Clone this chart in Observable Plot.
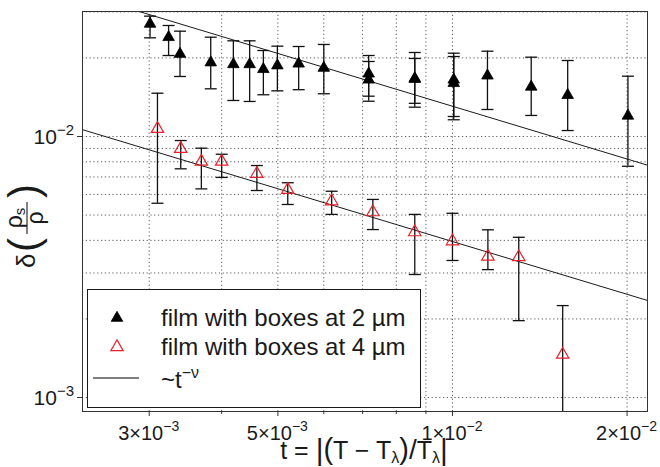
<!DOCTYPE html>
<html>
<head>
<meta charset="utf-8">
<script src="https://cdn.jsdelivr.net/npm/d3@7"></script>
<script src="https://cdn.jsdelivr.net/npm/@observablehq/plot@0.6"></script>
<style>
  body { margin: 0; background: #fff; }
  #chart { width: 660px; height: 467px; }
  svg text { font-family: "Liberation Sans", Arial, Helvetica, sans-serif; }
</style>
</head>
<body>
<div id="chart"></div>
<script>
// Superfluid fraction jump δ(ρs/ρ) versus reduced temperature t.

// film with boxes at 2 µm (repeated t = two runs at the same temperature)
const t2     = [0.00301, 0.00324, 0.00339, 0.00383, 0.00419, 0.00447, 0.00472, 0.00499, 0.00543, 0.00600,
                0.00717, 0.00717, 0.00861, 0.00861, 0.01005, 0.01005, 0.01149, 0.01367, 0.01580, 0.02007];
const rho2   = [0.0270, 0.0240, 0.0207, 0.0192, 0.0189, 0.0189, 0.0181, 0.0187, 0.0190, 0.0183,
                0.0174, 0.0165, 0.0167, 0.0166, 0.0165, 0.0160, 0.0171, 0.0155, 0.0144, 0.0120];
const rho2Lo = [0.02388, 0.02043, 0.01698, 0.01523, 0.01374, 0.01362, 0.01445, 0.01496, 0.01511, 0.01458,
                0.01427, 0.01365, 0.01295, 0.01340, 0.01193, 0.01159, 0.01269, 0.01204, 0.01054, 0.00769];
const rho2Hi = [0.02891, 0.02662, 0.02532, 0.02401, 0.02326, 0.02326, 0.02135, 0.02218, 0.02212, 0.02252,
                0.02043, 0.01938, 0.02098, 0.01990, 0.02085, 0.02025, 0.02122, 0.02013, 0.01955, 0.01702];

// film with boxes at 4 µm
const t4     = [0.00310, 0.00340, 0.00369, 0.00400, 0.00460, 0.00520, 0.00619, 0.00729, 0.00861, 0.01000,
                0.01151, 0.01301, 0.01549];
const rho4   = [0.01070, 0.00897, 0.00802, 0.00802, 0.00720, 0.00625, 0.00565, 0.00513, 0.00430, 0.00397,
                0.00347, 0.00345, 0.00146];
const rho4Lo = [0.00555, 0.00752, 0.00630, 0.00697, 0.00621, 0.00549, 0.00503, 0.00440, 0.00296, 0.00335,
                0.00309, 0.00197, 0.00060];
const rho4Hi = [0.01465, 0.00965, 0.00902, 0.00855, 0.00774, 0.00665, 0.00617, 0.00574, 0.00503, 0.00508,
                0.00439, 0.00411, 0.00225];

// power law ~ t^-ν, amplitudes given at t = 1e-2
const nu = 0.6717;
const fitRef = 0.01;
const fitAmp = [0.01306, 0.00396];

// axes
const xDomain = [0.002302, 0.02169];
const yDomain = [0.000884, 0.03012];
const xTicks = [0.003, 0.005, 0.01, 0.02];
const xTickBase = ["3×10", "5×10", "1×10", "2×10"];
const xTickExp = ["−3", "−3", "−2", "−2"];
const xMinor = [0.004, 0.006, 0.007, 0.008, 0.009];
const yTicks = [0.001, 0.01];
const yTickBase = ["10", "10"];
const yTickExp = ["−3", "−2"];
const xGrid = [0.003, 0.004, 0.005, 0.006, 0.007, 0.008, 0.009, 0.01, 0.02];
const yGrid = [0.001, 0.002, 0.003, 0.004, 0.005, 0.006, 0.007, 0.008, 0.009, 0.01, 0.02, 0.03];

const legendLabels = ["film with boxes at 2 µm", "film with boxes at 4 µm"];
const red = "#e8202a";
const ink = "#1a1a1a";

const set2 = t2.map((t, i) => ({t, v: rho2[i], lo: rho2Lo[i], hi: rho2Hi[i]}));
const set4 = t4.map((t, i) => ({t, v: rho4[i], lo: rho4Lo[i], hi: rho4Hi[i]}));
const capsOf = d => d.flatMap(p => [{t: p.t, v: p.lo}, {t: p.t, v: p.hi}]);
const fitData = fitAmp.flatMap((a, k) => xDomain.map(t => ({k, t, v: a * Math.pow(t / fitRef, -nu)})));

// horizontal bar used as error-bar cap
const capSymbol = {
  draw(ctx, size) {
    const r = Math.sqrt(size / Math.PI);
    ctx.moveTo(-r, 0);
    ctx.lineTo(r, 0);
  }
};

const grid = {stroke: "#333", strokeWidth: 0.9, strokeDasharray: "1.2,2.6", strokeOpacity: 0.9};
const barStyle = {stroke: "#111", strokeWidth: 1.3, clip: "frame"};

const plot = Plot.plot({
  width: 660,
  height: 467,
  marginLeft: 82,
  marginRight: 13,
  marginTop: 11,
  marginBottom: 56,
  x: {type: "log", domain: xDomain},
  y: {type: "log", domain: yDomain},
  style: {fontFamily: "Liberation Sans, Arial, sans-serif", color: ink, background: "#fff", overflow: "visible"},
  marks: [
    Plot.ruleX(xGrid, grid),
    Plot.ruleY(yGrid, grid),
    Plot.line(fitData, {x: "t", y: "v", z: "k", stroke: ink, strokeWidth: 1, clip: "frame"}),
    Plot.ruleX(set2, {x: "t", y1: "lo", y2: "hi", ...barStyle}),
    Plot.dot(capsOf(set2), {x: "t", y: "v", symbol: capSymbol, r: 6, ...barStyle}),
    Plot.ruleX(set4, {x: "t", y1: "lo", y2: "hi", ...barStyle}),
    Plot.dot(capsOf(set4), {x: "t", y: "v", symbol: capSymbol, r: 6, ...barStyle}),
    Plot.dot(set2, {x: "t", y: "v", symbol: "triangle", r: 4.3, fill: "#000", stroke: "#000", strokeWidth: 0.8}),
    Plot.dot(set4, {x: "t", y: "v", symbol: "triangle", r: 4.6, fill: "none", stroke: red, strokeWidth: 1.2}),
    Plot.frame({stroke: "#333", strokeWidth: 1}),
    Plot.axisX(xMinor, {tickSize: 3, tickFormat: () => "", label: null, stroke: "#333"}),
    Plot.axisX(xTicks, {tickSize: 5, tickFormat: () => "", label: null, stroke: "#333"}),
    Plot.axisY(yTicks, {tickSize: 5, tickFormat: () => "", label: null, stroke: "#333"})
  ]
});
document.getElementById("chart").appendChild(plot);

const svg = d3.select(plot);
const sx = plot.scale("x");
const sy = plot.scale("y");
const frameBottom = sy.apply(yDomain[0]);
const frameLeft = sx.apply(xDomain[0]);

// tick labels with superscript exponents, placed through the plot's scales
const xl = svg.append("g").attr("font-size", 20).attr("fill", ink).attr("text-anchor", "middle");
xTicks.forEach((v, i) => {
  const t = xl.append("text").attr("x", sx.apply(v)).attr("y", frameBottom + 29);
  t.append("tspan").text(xTickBase[i]);
  t.append("tspan").attr("dy", -9).attr("font-size", 14).text(xTickExp[i]);
});
const yl = svg.append("g").attr("font-size", 21).attr("fill", ink).attr("text-anchor", "end");
yTicks.forEach((v, i) => {
  const t = yl.append("text").attr("x", frameLeft - 8).attr("y", sy.apply(v) + 8);
  t.append("tspan").text(yTickBase[i]);
  t.append("tspan").attr("dy", -9).attr("font-size", 15).text(yTickExp[i]);
});

// legend
const lg = svg.append("g").attr("font-size", 24).attr("fill", ink).attr("text-anchor", "start");
lg.append("rect").attr("x", 87.5).attr("y", 289.5).attr("width", 333).attr("height", 118)
  .attr("fill", "#fff").attr("stroke", ink).attr("stroke-width", 1);
const tri = d3.symbol(d3.symbolTriangle, Math.PI * 4.3 * 4.3)();
const triR = d3.symbol(d3.symbolTriangle, Math.PI * 4.6 * 4.6)();
lg.append("path").attr("d", tri).attr("transform", "translate(117,318)").attr("fill", "#000").attr("stroke", "#000").attr("stroke-width", 0.8);
lg.append("path").attr("d", triR).attr("transform", "translate(117,347)").attr("fill", "none").attr("stroke", red).attr("stroke-width", 1.2);
lg.append("line").attr("x1", 93).attr("x2", 139).attr("y1", 378).attr("y2", 378).attr("stroke", "#555").attr("stroke-width", 1.3);
lg.append("text").attr("x", 161).attr("y", 326).text(legendLabels[0]);
lg.append("text").attr("x", 161).attr("y", 355).text(legendLabels[1]);
const fitLabel = lg.append("text").attr("x", 161).attr("y", 388);
fitLabel.append("tspan").text("~t");
fitLabel.append("tspan").attr("dy", -10).attr("font-size", 16).text("−ν");

// x-axis title: t = |(T − Tλ)/Tλ|
const xt = svg.append("text").attr("x", 364).attr("y", 459).attr("text-anchor", "middle")
  .attr("font-size", 25).attr("fill", ink);
xt.append("tspan").text("t = ");
xt.append("tspan").attr("font-size", 30).attr("dy", 1).text("|");
xt.append("tspan").attr("font-size", 29).attr("dy", -1).text("(");
xt.append("tspan").text("T − T");
xt.append("tspan").attr("font-size", 16).attr("dy", 4).text("λ");
xt.append("tspan").attr("font-size", 29).attr("dy", -4).text(")");
xt.append("tspan").attr("font-size", 28).text("/");
xt.append("tspan").text("T");
xt.append("tspan").attr("font-size", 16).attr("dy", 4).text("λ");
xt.append("tspan").attr("font-size", 30).attr("dy", -3).text("|");

// y-axis title: δ(ρs/ρ), rotated
const yt = svg.append("g").attr("transform", "translate(27,218) rotate(-90)").attr("fill", ink).attr("text-anchor", "start");
yt.append("text").attr("x", -50).attr("y", 8).attr("font-size", 26).text("δ");
yt.append("text").attr("x", -34).attr("y", 11).attr("font-size", 42).attr("font-weight", 300).text("(");
const num = yt.append("text").attr("x", 0).attr("y", -5).attr("text-anchor", "middle").attr("font-size", 23);
num.append("tspan").text("ρ");
num.append("tspan").attr("font-size", 15).attr("dy", 3).text("s");
yt.append("line").attr("x1", -16).attr("x2", 16).attr("y1", 0).attr("y2", 0).attr("stroke", ink).attr("stroke-width", 1.1);
yt.append("text").attr("x", 0).attr("y", 16).attr("text-anchor", "middle").attr("font-size", 23).text("ρ");
yt.append("text").attr("x", 20).attr("y", 11).attr("font-size", 42).attr("font-weight", 300).text(")");
</script>
</body>
</html>
